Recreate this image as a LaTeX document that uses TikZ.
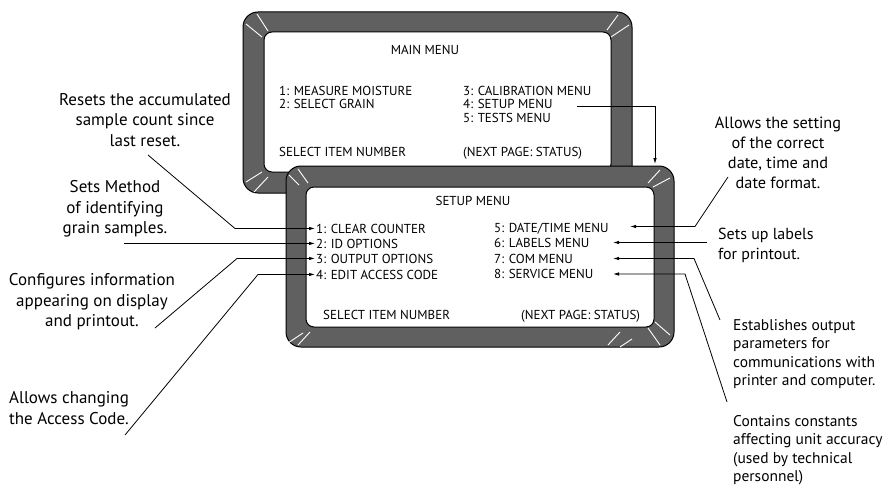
\documentclass[tikz,border=0pt]{standalone}
\usepackage{fontspec}
\setmainfont{PT Sans}
\usetikzlibrary{arrows.meta}
\definecolor{bezel}{RGB}{96,96,96}
\begin{document}
\begin{tikzpicture}[x=1pt,y=-1pt,
  bezelout/.style={fill=bezel,draw=black,line width=1pt,rounded corners=15pt},
  screenin/.style={fill=white,draw=black,line width=1pt,rounded corners=8pt},
  glint/.style={draw=white,line width=0.9pt},
  menutxt/.style={font=\fontsize{13}{15}\selectfont,anchor=base west,inner sep=1pt},
  titletxt/.style={font=\fontsize{13}{15}\selectfont,anchor=base,inner sep=1pt},
  annl/.style={font=\fontsize{17}{20.5}\selectfont,align=center,inner sep=0pt},
  annr/.style={font=\fontsize{15.5}{18.5}\selectfont,align=left,inner sep=0pt,anchor=west},
  conn/.style={draw=black,line width=0.8pt},
  arr/.style={conn,-{Latex[length=6pt,width=3.5pt]}}
]
\useasboundingbox (0,0) rectangle (888,487);
\fill[white] (0,0) rectangle (888,487);

% ---- top screen (MAIN MENU)
\draw[bezelout] (243,12) rectangle (632,193);
\draw[screenin] (264,32) rectangle (611,172);
\draw[glint] (268,31) -- (257,14);
\draw[glint] (262,37) -- (246,24);
\draw[glint] (607,30) -- (618,15);
\draw[glint] (611,37) -- (629,25);
\draw[glint] (246,182) -- (262,172);
\draw[glint] (254,192) -- (268,177);

\node[titletxt] (mtitle) at (425,55) {MAIN MENU};
\node[menutxt] (m1) at (278,95) {1: MEASURE MOISTURE};
\node[menutxt] (m2) at (278,108.5) {2: SELECT GRAIN};
\node[menutxt] (m3) at (462,95) {3: CALIBRATION MENU};
\node[menutxt] (m4) at (462,108.5) {4: SETUP MENU};
\node[menutxt] (m5) at (462,122.5) {5: TESTS MENU};
\node[menutxt] (msel) at (278,156) {SELECT ITEM NUMBER};
\node[menutxt] (mnext) at (462,156) {(NEXT PAGE: STATUS)};

% ---- bottom screen (SETUP MENU)
\draw[bezelout] (286,166) rectangle (674,347);
\draw[screenin] (306,187) rectangle (654,327);
\draw[glint] (289,175) -- (299,185);
\draw[glint] (298,169) -- (308,183);
\draw[glint] (648,183) -- (660,170);
\draw[glint] (653,187) -- (670,178);
\draw[glint] (288,343) -- (303,333);
\draw[glint] (298,345) -- (310,332);
\draw[glint] (648,328) -- (660,345);
\draw[glint] (655,322) -- (670,335);
\draw[glint] (608,345) -- (620,332);
\draw[glint] (620,347) -- (632,339);

\node[titletxt] (stitle) at (473,205) {SETUP MENU};
\node[menutxt] (s1) at (315,233) {1: CLEAR COUNTER};
\node[menutxt] (s2) at (315,248) {2: ID OPTIONS};
\node[menutxt] (s3) at (315,263) {3: OUTPUT OPTIONS};
\node[menutxt] (s4) at (315,279) {4: EDIT ACCESS CODE};
\node[menutxt] (s5) at (493,232) {5: DATE/TIME MENU};
\node[menutxt] (s6) at (493,247) {6: LABELS MENU};
\node[menutxt] (s7) at (493,263) {7: COM MENU};
\node[menutxt] (s8) at (493,278) {8: SERVICE MENU};
\node[menutxt] (ssel) at (322,319) {SELECT ITEM NUMBER};
\node[menutxt] (snext) at (520,319) {(NEXT PAGE: STATUS)};

% ---- link main -> setup
\coordinate (m4r) at (577,106);
\coordinate (m4b) at (655,106);
\coordinate (stop) at (655,164);
\draw[arr] (m4r) -- (m4b) -- (stop);

% ---- left annotations
\node[annl] (a1) at (145,120) {Resets the accumulated\\sample count since\\last reset.};
\node[annl] (a2) at (115,209) {Sets Method\\of identifying\\grain samples.};
\node[annl] (a3) at (92,302) {Configures information\\appearing on display\\and printout.};
\node[annl] (a4) at (69,408) {Allows changing\\the Access Code.};

\coordinate (a1s) at (148,155);
\coordinate (a1b) at (235,228.5);
\draw[arr] (a1s) -- (a1b) -- (s1.west);
\coordinate (a2s) at (124,243.5);
\draw[arr] (a2s) -- (s2.west);
\coordinate (a3s) at (155,328);
\coordinate (a3b) at (237,258.5);
\draw[arr] (a3s) -- (a3b) -- (s3.west);
\coordinate (a4s) at (125,435);
\coordinate (a4b) at (258,274.5);
\draw[arr] (a4s) -- (a4b) -- (s4.west);

% ---- right annotations
\node[annl,font=\fontsize{16.3}{20}\selectfont] (a5) at (778,153) {Allows the setting\\of the correct\\date, time and\\date format.};
\node[annr,font=\fontsize{16}{20}\selectfont] (a6) at (718,245) {Sets up labels\\for printout.};
\node[annr] (a7) at (733,354) {Establishes output\\parameters for\\communications with\\printer and computer.};
\node[annr] (a8) at (733,450) {Contains constants\\affecting unit accuracy\\(used by technical\\personnel)};

\coordinate (a5s) at (728,177);
\coordinate (a5b) at (695,226.5);
\coordinate (t5) at (630,226.5);
\draw[arr] (a5s) -- (a5b) -- (t5);
\coordinate (a6s) at (707,242.5);
\coordinate (t6) at (613,242.5);
\draw[arr] (a6s) -- (t6);
\coordinate (a7s) at (720,320);
\coordinate (a7b) at (694,258.5);
\coordinate (t7) at (613,258.5);
\draw[arr] (a7s) -- (a7b) -- (t7);
\coordinate (a8s) at (727,402);
\coordinate (a8b) at (685,274);
\coordinate (t8) at (613,274);
\draw[arr] (a8s) -- (a8b) -- (t8);
\end{tikzpicture}
\end{document}
